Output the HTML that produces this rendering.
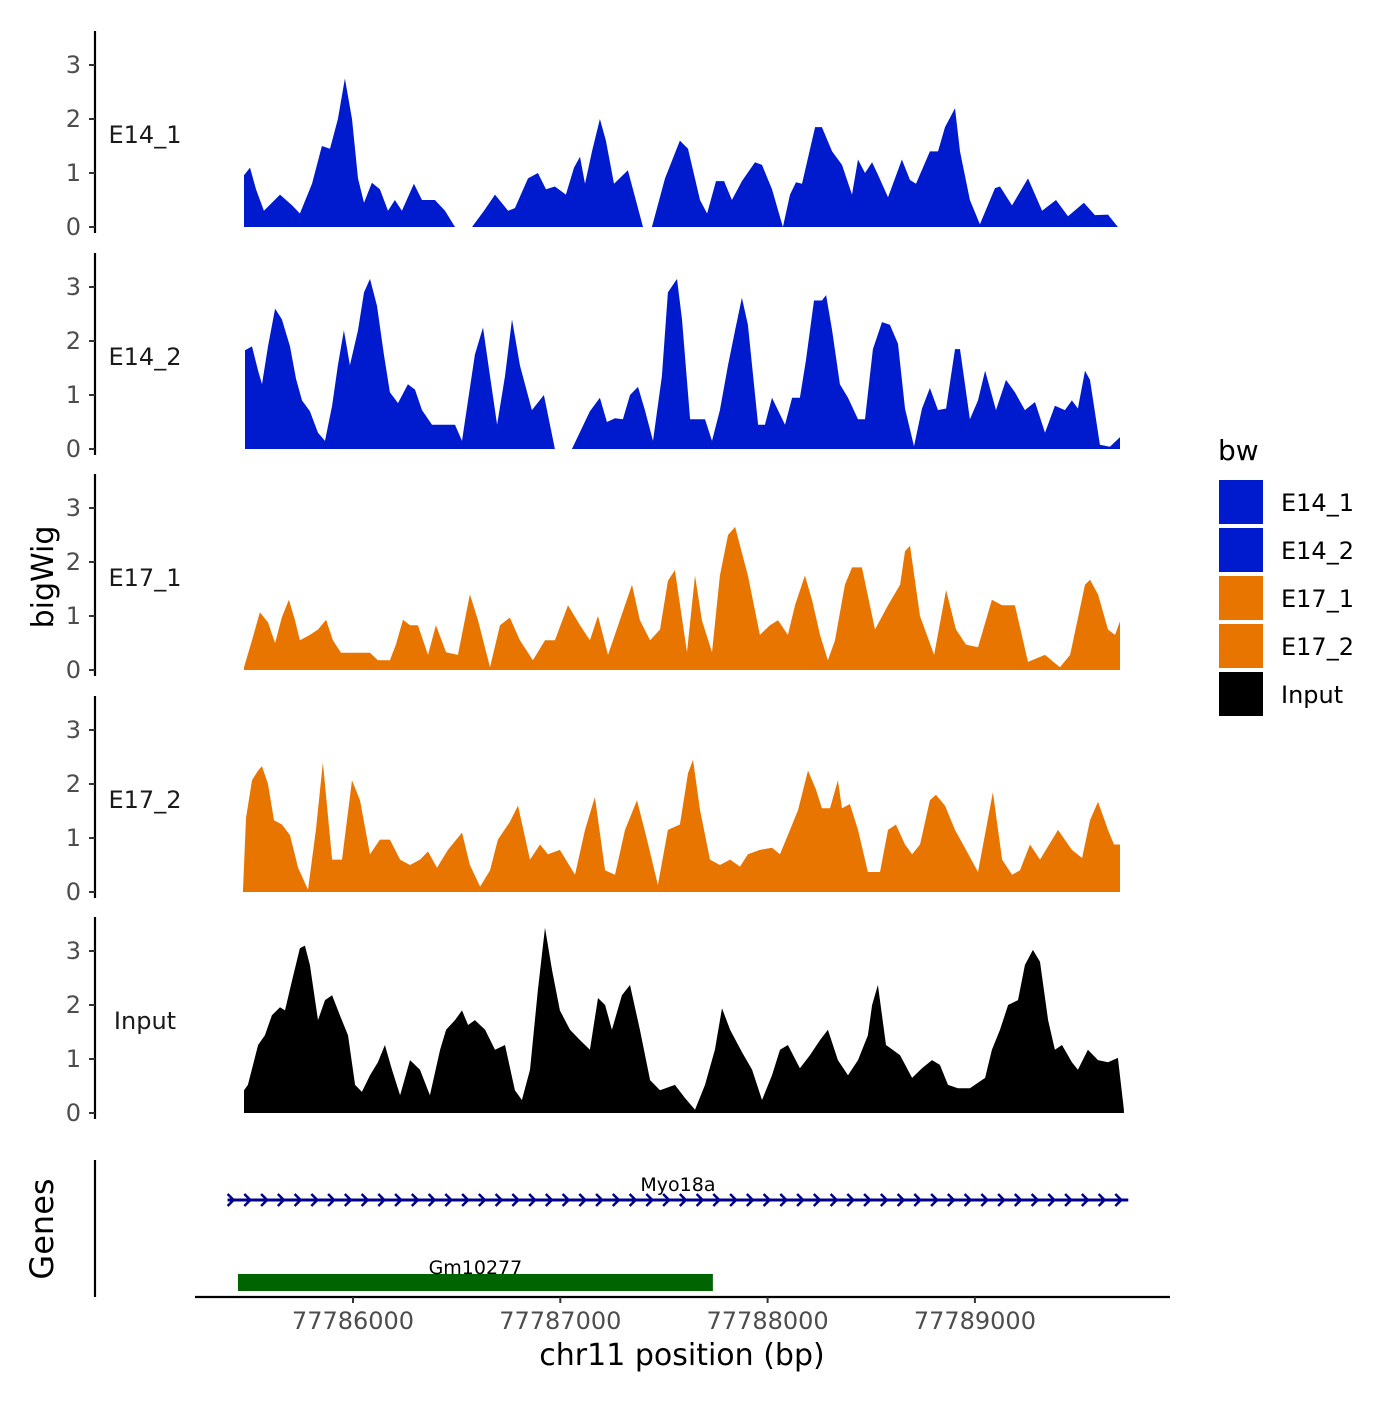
<!DOCTYPE html>
<html><head><meta charset="utf-8"><style>
html,body{margin:0;padding:0;background:#fff;}
svg text{font-family:"DejaVu Sans","Liberation Sans",sans-serif;}
</style></head><body>
<svg id="chart" xmlns="http://www.w3.org/2000/svg" width="1400" height="1400" viewBox="0 0 1400 1400"></svg>
<script>
const regionStart = 77785000;
const trackNames = ["E14_1","E14_2","E17_1","E17_2","Input"];
const trackColors = ["#001ACD","#001ACD","#E87500","#E87500","#000000"];
const yTicks = [0,1,2,3];
const xTickLabels = [77786000,77787000,77788000,77789000];

const e14_1Pos = [474,503,532,570,609,648,706,744,802,850,889,927,961,995,1024,1053,1091,1130,1169,1202,1236,1294,1333,1395,1444,1492,1574,1632,1685,1748,1781,1844,1892,1931,1974,2027,2066,2095,2119,2153,2191,2220,2259,2326,2399,2442,2505,2577,2616,2674,2708,2751,2790,2828,2876,2939,2973,3021,3074,3108,3137,3166,3229,3262,3311,3359,3407,3436,3470,3504,3532,3581,3648,3687,3716,3783,3822,3856,3904,3928,3976,4024,4097,4121,4179,4256,4324,4391,4449,4526,4579,4642,4690];
const e14_1Val = [0.96,1.1,0.7,0.3,0.45,0.6,0.4,0.25,0.8,1.5,1.45,2.0,2.75,2.0,0.9,0.45,0.82,0.7,0.3,0.5,0.3,0.8,0.5,0.5,0.3,0,0,0.3,0.6,0.3,0.35,0.9,1.0,0.7,0.75,0.6,1.1,1.3,0.8,1.4,2.0,1.6,0.8,1.05,0,0,0.9,1.6,1.45,0.5,0.25,0.85,0.85,0.5,0.85,1.2,1.15,0.7,0,0.6,0.83,0.8,1.85,1.85,1.4,1.15,0.6,1.25,1.0,1.2,0.97,0.55,1.25,0.87,0.8,1.4,1.4,1.85,2.2,1.4,0.5,0.05,0.72,0.75,0.4,0.9,0.3,0.5,0.2,0.45,0.22,0.23,0];

const e14_2Pos = [479,513,542,561,590,624,657,696,725,754,792,831,865,899,927,956,985,1024,1053,1082,1116,1149,1178,1217,1265,1299,1333,1381,1492,1526,1588,1627,1661,1695,1733,1767,1805,1863,1921,1974,2056,2143,2191,2225,2264,2302,2336,2375,2408,2447,2490,2519,2563,2587,2626,2698,2732,2770,2809,2843,2876,2905,2954,2987,3021,3084,3118,3156,3185,3224,3262,3282,3311,3349,3388,3436,3470,3508,3552,3590,3629,3663,3706,3745,3783,3822,3861,3904,3928,3976,4015,4049,4102,4150,4193,4241,4290,4338,4386,4434,4468,4497,4531,4555,4603,4651,4700];
const e14_2Val = [1.83,1.9,1.45,1.2,1.9,2.6,2.4,1.9,1.3,0.9,0.7,0.3,0.15,0.8,1.55,2.2,1.55,2.2,2.9,3.15,2.65,1.75,1.05,0.85,1.2,1.1,0.72,0.45,0.45,0.15,1.75,2.25,1.35,0.45,1.35,2.4,1.55,0.72,1.0,0,0,0.7,0.95,0.5,0.57,0.55,1.0,1.15,0.72,0.15,1.35,2.9,3.15,2.4,0.55,0.55,0.15,0.72,1.55,2.2,2.8,2.3,0.45,0.45,0.95,0.45,0.95,0.95,1.65,2.75,2.75,2.85,2.2,1.2,0.95,0.55,0.55,1.85,2.35,2.3,1.95,0.75,0.05,0.75,1.13,0.72,0.75,1.85,1.85,0.55,0.9,1.45,0.72,1.28,1.05,0.72,0.87,0.3,0.8,0.72,0.9,0.75,1.45,1.28,0.08,0.04,0.22];

const e17_1Pos = [474,513,551,590,624,657,691,720,744,792,831,870,903,942,1082,1120,1178,1207,1241,1275,1313,1362,1400,1449,1506,1564,1603,1661,1709,1757,1805,1868,1926,1974,2037,2095,2143,2182,2230,2288,2346,2384,2433,2481,2519,2553,2611,2650,2683,2732,2770,2809,2843,2905,2963,3011,3050,3098,3132,3180,3214,3253,3291,3325,3373,3407,3455,3518,3581,3639,3663,3687,3735,3803,3861,3909,3957,4015,4082,4131,4193,4256,4338,4410,4459,4531,4555,4594,4642,4676,4700];
const e17_1Val = [0.05,0.55,1.07,0.88,0.5,0.98,1.3,0.92,0.55,0.65,0.75,0.93,0.55,0.32,0.32,0.18,0.18,0.47,0.93,0.83,0.83,0.28,0.83,0.33,0.28,1.4,0.92,0.05,0.83,0.97,0.55,0.18,0.55,0.55,1.2,0.83,0.55,1.0,0.28,0.93,1.58,0.92,0.55,0.75,1.65,1.85,0.33,1.75,0.92,0.33,1.75,2.5,2.65,1.75,0.65,0.83,0.92,0.65,1.2,1.75,1.3,0.65,0.18,0.55,1.58,1.9,1.9,0.75,1.2,1.58,2.2,2.3,1.0,0.28,1.48,0.75,0.47,0.42,1.3,1.2,1.2,0.15,0.28,0.05,0.28,1.58,1.67,1.4,0.75,0.65,0.9];

const e17_2Pos = [469,484,513,542,561,590,619,657,696,735,783,821,855,899,947,995,1034,1082,1130,1178,1227,1275,1323,1362,1405,1458,1526,1564,1613,1661,1699,1757,1796,1854,1902,1940,1998,2071,2119,2167,2216,2264,2312,2370,2418,2471,2519,2577,2616,2640,2674,2722,2770,2819,2867,2905,2963,3021,3060,3108,3147,3195,3233,3262,3301,3339,3359,3397,3436,3484,3542,3581,3619,3663,3697,3735,3783,3812,3856,3904,3957,4015,4087,4131,4179,4217,4266,4314,4401,4468,4517,4555,4594,4642,4671,4700];
const e17_2Val = [0,1.37,2.07,2.25,2.33,2.0,1.33,1.25,1.05,0.45,0.04,1.15,2.4,0.6,0.6,2.07,1.7,0.7,0.97,0.97,0.6,0.5,0.6,0.75,0.45,0.78,1.1,0.5,0.1,0.4,0.97,1.3,1.6,0.6,0.88,0.7,0.78,0.32,1.15,1.76,0.4,0.32,1.15,1.7,0.97,0.13,1.15,1.25,2.2,2.45,1.52,0.6,0.5,0.6,0.47,0.7,0.78,0.82,0.7,1.15,1.52,2.25,1.9,1.55,1.55,2.07,1.55,1.63,1.15,0.37,0.37,1.15,1.25,0.88,0.7,0.88,1.7,1.8,1.6,1.15,0.78,0.37,1.85,0.6,0.32,0.4,0.88,0.6,1.15,0.78,0.63,1.33,1.67,1.15,0.88,0.88];

const inputPos = [474,493,542,575,609,648,672,706,744,768,792,831,865,899,937,976,1010,1043,1082,1120,1154,1188,1227,1275,1323,1371,1420,1449,1492,1526,1555,1588,1637,1685,1733,1781,1815,1854,1892,1926,1960,1998,2047,2095,2143,2182,2216,2249,2297,2336,2384,2433,2481,2553,2601,2650,2698,2746,2780,2819,2876,2925,2973,3021,3060,3098,3156,3204,3253,3291,3339,3388,3436,3484,3504,3532,3571,3639,3697,3745,3793,3831,3870,3918,3976,4049,4082,4121,4160,4208,4241,4280,4314,4353,4386,4420,4468,4497,4545,4594,4642,4690,4719];
const inputVal = [0.42,0.52,1.26,1.44,1.81,1.96,1.9,2.46,3.05,3.1,2.74,1.72,2.09,2.18,1.81,1.44,0.52,0.39,0.7,0.94,1.26,0.8,0.33,0.98,0.8,0.33,1.17,1.54,1.72,1.9,1.63,1.72,1.54,1.17,1.26,0.42,0.24,0.8,2.28,3.43,2.65,1.9,1.54,1.35,1.17,2.13,2.0,1.54,2.18,2.37,1.54,0.61,0.42,0.52,0.28,0.06,0.52,1.17,1.94,1.54,1.13,0.8,0.24,0.7,1.17,1.26,0.83,1.07,1.35,1.54,0.98,0.7,0.98,1.44,2.0,2.37,1.26,1.07,0.65,0.83,0.98,0.89,0.52,0.46,0.46,0.65,1.17,1.54,2.0,2.09,2.74,3.02,2.8,1.72,1.17,1.26,0.94,0.8,1.17,0.98,0.94,1.02,0.06];

const trackPos = [e14_1Pos,e14_2Pos,e17_1Pos,e17_2Pos,inputPos];
const trackVal = [e14_1Val,e14_2Val,e17_1Val,e17_2Val,inputVal];

const geneNames = ["Myo18a","Gm10277"];
const geneStarts = [395,445];
const geneEnds = [4740,2736];

const legendLabels = ["E14_1","E14_2","E17_1","E17_2","Input"];

const NS = "http://www.w3.org/2000/svg";
const svg = document.getElementById('chart');
function mk(tag, attrs, parent, text){
  const e = document.createElementNS(NS, tag);
  for (const k in attrs) e.setAttribute(k, attrs[k]);
  if (text !== undefined) e.textContent = text;
  (parent || svg).appendChild(e);
  return e;
}
function xScale(relBp){ return 353 + (relBp - 1000) * 0.20730; }
const baselines = [227, 449, 670, 892, 1113];
const pxPerUnit = 54;
function yScale(i, v){ return baselines[i] - v * pxPerUnit; }

for (let i = 0; i < 5; i++){
  const g = mk('g', {});
  
  
  const b = baselines[i];
  const ax = mk('line', {x1:95, x2:95, y1:b-196, y2:b+6, stroke:'#000', 'stroke-width':2.2}, g);
  
  
  yTicks.forEach(t => {
    const y = yScale(i, t);
    const tk = mk('line', {x1:89, x2:95, y1:y, y2:y, stroke:'#333', 'stroke-width':2}, g);
    
    
    const tl = mk('text', {x:81, y:y+8, 'text-anchor':'end', 'font-size':24, fill:'#4d4d4d'}, g, String(t));
    
    
  });
  const lab = mk('text', {x:145, y:b-84, 'text-anchor':'middle', 'font-size':24, fill:'#1a1a1a'}, g, trackNames[i]);
  
  
  const P = trackPos[i], V = trackVal[i];
  let d = 'M' + xScale(P[0]).toFixed(1) + ',' + b;
  for (let j = 0; j < P.length; j++) d += 'L' + xScale(P[j]).toFixed(1) + ',' + yScale(i, V[j]).toFixed(1);
  d += 'L' + xScale(P[P.length-1]).toFixed(1) + ',' + b + 'Z';
  const area = mk('path', {d:d, fill:trackColors[i], stroke:'none'}, g);
  
  
}

const yt = mk('text', {x:0, y:0, transform:'translate(53,577) rotate(-90)', 'text-anchor':'middle', 'font-size':30, fill:'#000'}, svg, 'bigWig');



const gg = mk('g', {});


const gax = mk('line', {x1:95, x2:95, y1:1160, y2:1297, stroke:'#000', 'stroke-width':2.2}, gg);


const gt = mk('text', {x:0, y:0, transform:'translate(53,1229) rotate(-90)', 'text-anchor':'middle', 'font-size':32, fill:'#000'}, gg, 'Genes');


{
  const x1 = xScale(geneStarts[0]), x2 = xScale(geneEnds[0]);
  const ln = mk('line', {x1:x1, x2:x2, y1:1200, y2:1200, stroke:'#00008B', 'stroke-width':3}, gg);
  
  
  let dd = '';
  for (let x = x1 + 4; x <= x2 + 1; x += 16.75) dd += 'M' + (x-4).toFixed(1) + ',1194L' + (x+2).toFixed(1) + ',1200L' + (x-4).toFixed(1) + ',1206';
  const ar = mk('path', {d:dd, stroke:'#00008B', 'stroke-width':2.5, fill:'none'}, gg);
  
  
  const t = mk('text', {x:(x1+x2)/2, y:1191, 'text-anchor':'middle', 'font-size':19, fill:'#000'}, gg, geneNames[0]);
  
  
}
{
  const x1 = xScale(geneStarts[1]), x2 = xScale(geneEnds[1]);
  const r = mk('rect', {x:x1, y:1274, width:x2-x1, height:17, fill:'#006400'}, gg);
  
  
  const t = mk('text', {x:(x1+x2)/2, y:1274, 'text-anchor':'middle', 'font-size':19, fill:'#000'}, gg, geneNames[1]);
  
  
}

const xg = mk('g', {});


const xl = mk('line', {x1:195, x2:1170, y1:1297, y2:1297, stroke:'#000', 'stroke-width':2.2}, xg);


xTickLabels.forEach(v => {
  const x = xScale(v - regionStart);
  const tk = mk('line', {x1:x, x2:x, y1:1297, y2:1303, stroke:'#333', 'stroke-width':2}, xg);
  
  
  const tl = mk('text', {x:x, y:1329, 'text-anchor':'middle', 'font-size':24, fill:'#4d4d4d'}, xg, String(v));
  
  
});
const xt = mk('text', {x:682, y:1365, 'text-anchor':'middle', 'font-size':30, fill:'#000'}, xg, 'chr11 position (bp)');



const lg = mk('g', {});


const lt = mk('text', {x:1218, y:460, 'font-size':28, fill:'#000'}, lg, 'bw');


legendLabels.forEach((l, k) => {
  const y = 480 + k * 48;
  const r = mk('rect', {x:1219, y:y, width:44, height:44, fill:trackColors[k]}, lg);
  
  
  const t = mk('text', {x:1281, y:y+31, 'font-size':24, fill:'#000'}, lg, l);
  
  
});
</script>
</body></html>
